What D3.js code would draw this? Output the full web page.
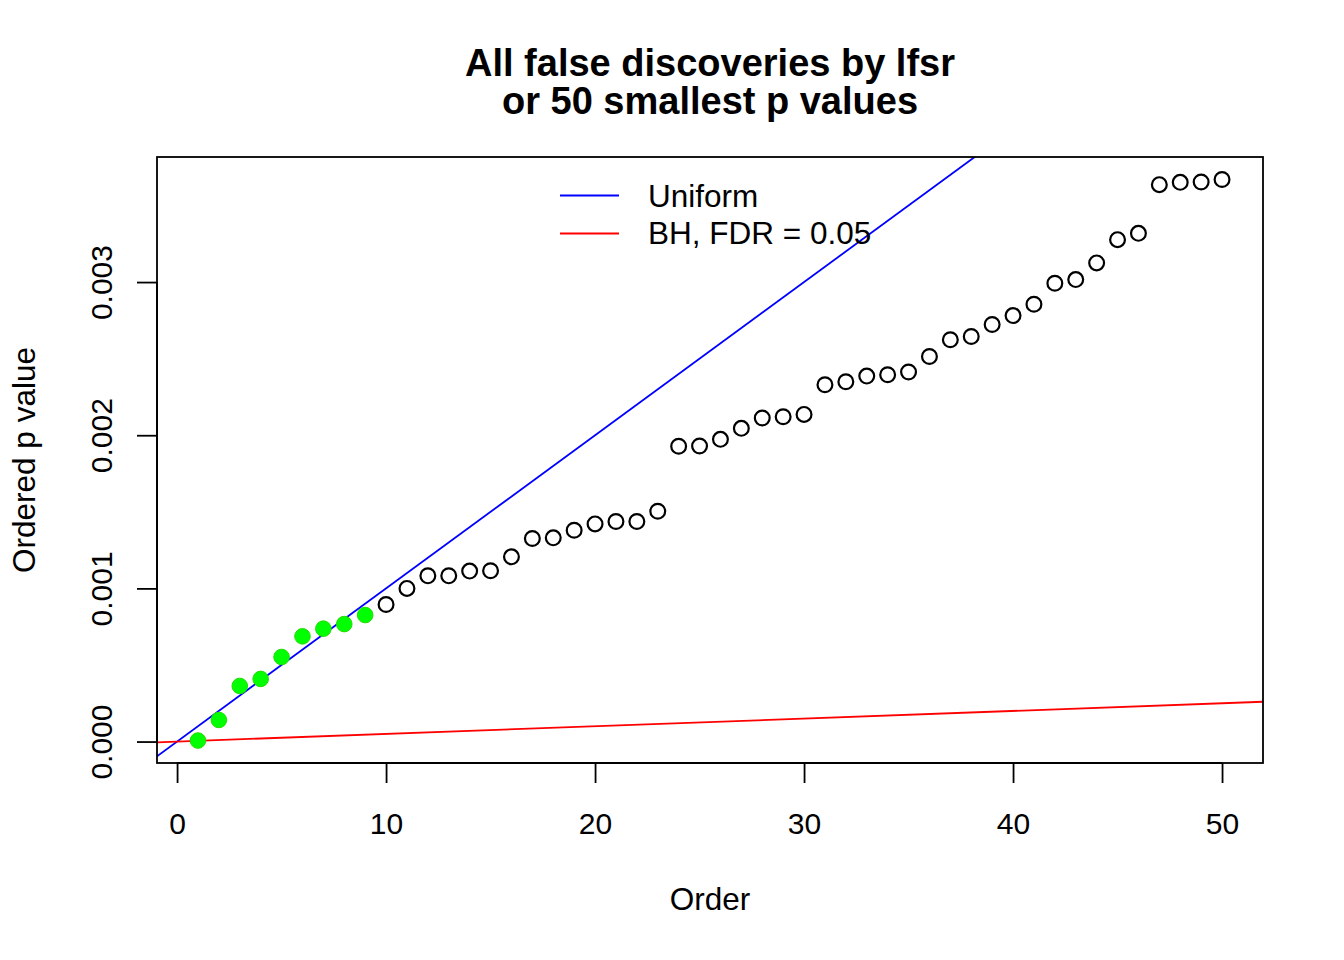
<!DOCTYPE html>
<html><head><meta charset="utf-8">
<script src="https://cdn.jsdelivr.net/npm/d3@7"></script>
<style>body{margin:0;background:#fff}svg{display:block}text{font-family:"Liberation Sans",Arial,sans-serif}</style>
</head><body>
<svg id="c" width="1344" height="960"></svg>
<script>
const order = d3.range(1, 51);
const pvalues = [0.0000065,0.000141,0.000363,0.000409,0.000552,0.000687,0.000737,0.000767,0.000826,0.000895,
0.001000,0.001082,0.001082,0.001113,0.001115,0.001206,0.001326,0.001330,0.001380,0.001421,
0.001437,0.001437,0.001504,0.001928,0.001930,0.001973,0.002045,0.002112,0.002121,0.002136,
0.002330,0.002349,0.002386,0.002395,0.002413,0.002514,0.002623,0.002645,0.002723,0.002781,
0.002855,0.002992,0.003016,0.003125,0.003277,0.003318,0.003636,0.003651,0.003653,0.003670];
const nDiscoveries = 9;
const nTests = 10000;
const fdr = 0.05;
const xTicks = [0,10,20,30,40,50];
const yTicks = [0,0.001,0.002,0.003];
const legendLabels = ["Uniform","BH, FDR = 0.05"];
const legendColors = ["#0000ff","#ff0000"];

const FS = 31.5, TFS = 30;
const svg = d3.select("#c");
const L=157, R=1263, T=157, B=763;
const xr = [1 - 0.04*49, 50 + 0.04*49];
const ymin = d3.min(pvalues), ymax = d3.max(pvalues), yd = (ymax-ymin)*0.04;
const x = d3.scaleLinear().domain(xr).range([L,R]);
const y = d3.scaleLinear().domain([ymin-yd, ymax+yd]).range([B,T]);

svg.append("defs").append("clipPath").attr("id","clip").append("rect")
  .attr("x",L).attr("y",T).attr("width",R-L).attr("height",B-T);

const g = svg.append("g").attr("clip-path","url(#clip)");
const line = d3.line().x(d=>x(d[0])).y(d=>y(d[1]));
g.append("path").datum(xr.map(v=>[v, v/nTests])).attr("d",line)
  .attr("stroke","#0000ff").attr("stroke-width",1.8).attr("fill","none");
g.append("path").datum(xr.map(v=>[v, fdr*v/nTests])).attr("d",line)
  .attr("stroke","#ff0000").attr("stroke-width",1.8).attr("fill","none");

svg.append("g").selectAll("circle").data(pvalues).join("circle")
  .attr("cx",(d,i)=>x(order[i])).attr("cy",d=>y(d)).attr("r",(d,i)=>i<nDiscoveries?7.8:7.4)
  .attr("fill",(d,i)=>i<nDiscoveries?"#00ff00":"none")
  .attr("stroke",(d,i)=>i<nDiscoveries?"#22dd00":"#000")
  .attr("stroke-width",(d,i)=>i<nDiscoveries?1:2.2);

svg.append("rect").attr("x",L).attr("y",T).attr("width",R-L).attr("height",B-T)
  .attr("fill","none").attr("stroke","#000").attr("stroke-width",1.8);

const xa = svg.append("g").attr("transform",`translate(0,${B})`)
  .call(d3.axisBottom(x).tickValues(xTicks).tickSize(20).tickFormat(d3.format("d")));
xa.select(".domain").attr("d",`M${x(0)},0H${x(50)}`).attr("stroke-width",1.8);
xa.selectAll(".tick line").attr("stroke-width",1.8);
xa.selectAll("text").attr("font-size",TFS).attr("fill","#000").attr("font-family","Liberation Sans, Arial, sans-serif")
  .attr("y",71).attr("dy",0);

const ya = svg.append("g").attr("transform",`translate(${L},0)`)
  .call(d3.axisLeft(y).tickValues(yTicks).tickSize(20).tickFormat(d3.format(".3f")));
ya.select(".domain").attr("d",`M0,${y(0)}V${y(0.003)}`).attr("stroke-width",1.8);
ya.selectAll(".tick line").attr("stroke-width",1.8);
ya.selectAll("text").attr("font-size",TFS).attr("fill","#000").attr("font-family","Liberation Sans, Arial, sans-serif")
  .attr("text-anchor","middle").attr("x",0).attr("y",0).attr("dy",0)
  .attr("transform","translate(-45,0) rotate(-90)");

svg.append("text").attr("x",710).attr("y",75.5).attr("text-anchor","middle")
  .attr("font-size",38).attr("font-weight","bold").text("All false discoveries by lfsr");
svg.append("text").attr("x",710).attr("y",113.5).attr("text-anchor","middle")
  .attr("font-size",38).attr("font-weight","bold").text("or 50 smallest p values");
svg.append("text").attr("x",710).attr("y",910).attr("text-anchor","middle")
  .attr("font-size",FS).text("Order");
svg.append("text").attr("transform","translate(35,460) rotate(-90)").attr("text-anchor","middle")
  .attr("font-size",FS).text("Ordered p value");

const lg = svg.append("g");
legendLabels.forEach((lab,i)=>{
  const yy = 195.5 + i*38;
  lg.append("line").attr("x1",560).attr("x2",619).attr("y1",yy).attr("y2",yy)
    .attr("stroke",legendColors[i]).attr("stroke-width",1.8);
  lg.append("text").attr("x",648).attr("y",207 + i*37).attr("font-size",FS).text(lab);
});
</script>
</body></html>
